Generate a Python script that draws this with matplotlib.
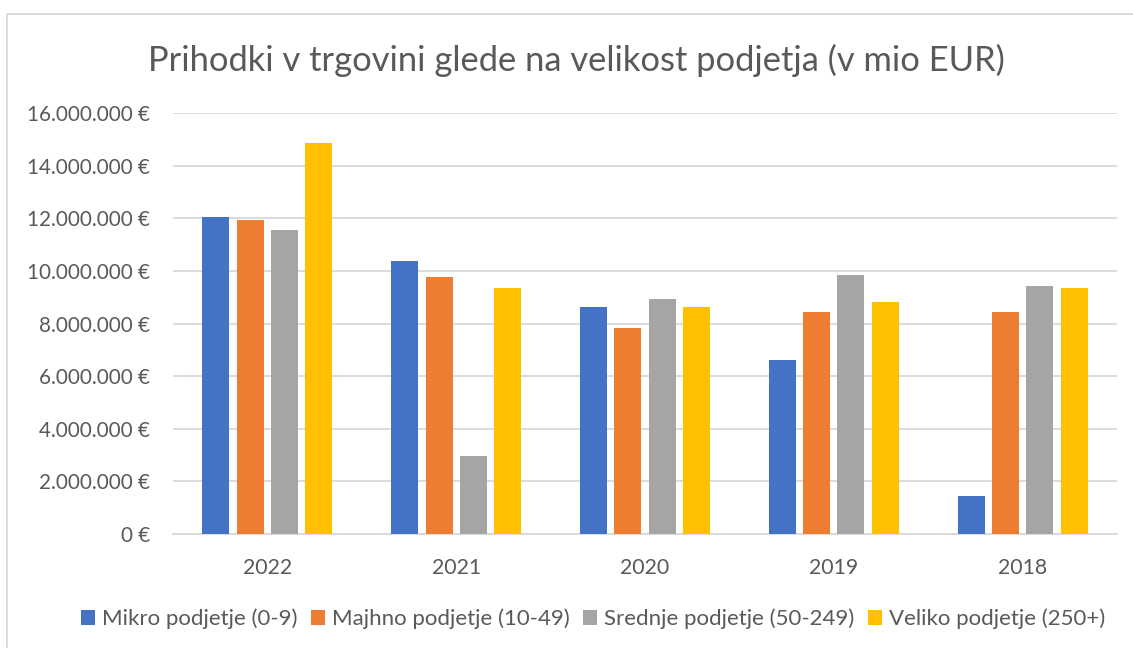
#!/usr/bin/env python3
"""Prihodki v trgovini glede na velikost podjetja -- grouped bar chart."""
import numpy as np
import matplotlib
matplotlib.use("Agg")
import matplotlib.pyplot as plt
from matplotlib.patches import Rectangle
from matplotlib.ticker import FuncFormatter, MultipleLocator

YEARS = ["2022", "2021", "2020", "2019", "2018"]
SERIES = [
    "Mikro podjetje (0-9)",
    "Majhno podjetje (10-49)",
    "Srednje podjetje (50-249)",
    "Veliko podjetje (250+)",
]
MIKRO = [12030000, 10370000, 8630000, 6630000, 1430000]
MAJHNO = [11920000, 9750000, 7820000, 8430000, 8430000]
SREDNJE = [11570000, 2960000, 8940000, 9840000, 9410000]
VELIKO = [14850000, 9350000, 8630000, 8810000, 9340000]
COLORS = ["#4472C4", "#ED7D31", "#A5A5A5", "#FFC000"]

TEXT = "#595959"
GRID = "#D9D9D9"
W, H = 1133, 648


def euro(v, _pos=None):
    return f"{int(round(v)):,}".replace(",", ".") + " €"


def main():
    plt.rcParams["font.family"] = ["Lato", "DejaVu Sans"]

    fig = plt.figure(figsize=(W / 100, H / 100), dpi=100)
    ax = fig.add_axes([173 / W, 1 - 534 / H, (1117 - 173) / W, (534 - 113) / H])

    x = np.arange(len(YEARS))
    width = 0.143
    pitch = 0.182
    values = [MIKRO, MAJHNO, SREDNJE, VELIKO]
    handles = []
    for i, (vals, col, name) in enumerate(zip(values, COLORS, SERIES)):
        off = (i - 1.5) * pitch
        b = ax.bar(x + off, vals, width, color=col, label=name, zorder=3)
        handles.append(b)

    ax.set_xlim(-0.5, len(YEARS) - 0.5)
    ax.set_ylim(0, 16000000)
    ax.yaxis.set_major_locator(MultipleLocator(2000000))
    ax.yaxis.set_major_formatter(FuncFormatter(euro))
    ax.set_xticks(x)
    ax.set_xticklabels(YEARS)

    ax.grid(axis="y", color=GRID, lw=1.3, zorder=0)
    for s in ["top", "right", "left"]:
        ax.spines[s].set_visible(False)
    ax.spines["bottom"].set_color(GRID)
    ax.spines["bottom"].set_linewidth(1.3)
    ax.tick_params(axis="both", length=0, colors=TEXT)
    ax.tick_params(axis="y", pad=16.5, labelsize=14.9)
    ax.tick_params(axis="x", pad=17, labelsize=15.3)

    fig.text(576 / W, 1 - 60 / H,
             "Prihodki v trgovini glede na velikost podjetja (v mio EUR)",
             ha="center", va="center", fontsize=24.8, color=TEXT)

    leg = fig.legend(handles=handles, labels=SERIES, loc="center",
                     bbox_to_anchor=(593 / W, 1 - 619 / H), ncol=4,
                     frameon=False, fontsize=16, handlelength=0.65,
                     handleheight=0.65, handletextpad=0.3, columnspacing=0.6)
    for t in leg.get_texts():
        t.set_color(TEXT)

    fig.patches.append(Rectangle((7 / W, -0.02), 1.0, 1 - 14 / H + 0.02,
                                 transform=fig.transFigure, fill=False,
                                 edgecolor=GRID, lw=1.3))

    fig.savefig("out.png", dpi=100, facecolor="white")


if __name__ == "__main__":
    main()
